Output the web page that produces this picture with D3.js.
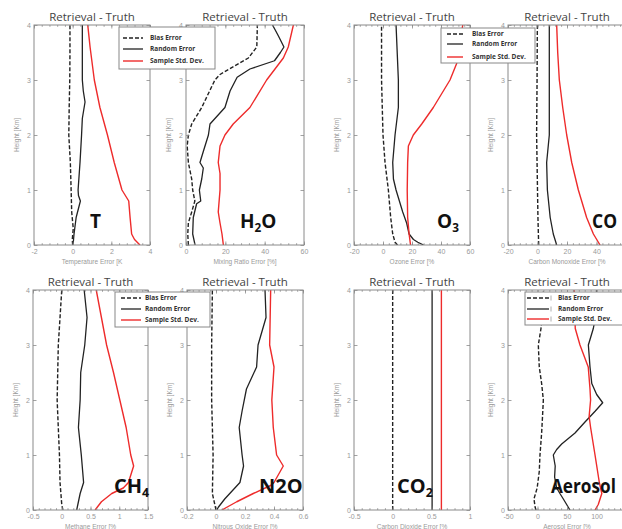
<!DOCTYPE html>
<html>
<head>
<meta charset="utf-8">
<script src="https://cdn.jsdelivr.net/npm/d3@7"></script>
<style>
  body { margin: 0; background: #fff; }
  svg { display: block; font-family: "Open Sans", Lato, sans-serif; }
</style>
</head>
<body>
<svg id="chart" width="622" height="529"></svg>
<script>
// Profiles: [height km, error value]
const seriesNames = ['Bias Error', 'Random Error', 'Sample Std. Dev.'];
const heightTicks = [0, 1, 2, 3, 4];

// Temperature
const tTicks = [-2, 0, 2, 4];
const tBias = [[0, 0], [0.1, -0.02], [0.3, 0.03], [0.6, -0.05], [1, -0.08], [1.5, -0.12], [2, -0.2], [2.5, -0.18], [3, -0.15], [3.5, -0.14], [4, -0.14]];
const tRandom = [[0, 0.02], [0.2, 0.07], [0.5, 0.18], [0.8, 0.4], [0.9, 0.3], [1, 0.28], [1.5, 0.38], [2, 0.46], [2.3, 0.5], [2.6, 0.64], [2.8, 0.55], [3, 0.5], [3.5, 0.5], [4, 0.5]];
const tStd = [[0, 3.48], [0.1, 3.2], [0.2, 3.05], [0.5, 2.97], [0.8, 2.9], [1, 2.55], [1.5, 2.15], [2, 1.8], [2.5, 1.41], [3, 1.12], [3.6, 0.9], [4, 0.78]];

// Water vapour
const h2oTicks = [0, 20, 40, 60];
const h2oBias = [[0, 1.2], [0.2, 0.9], [0.4, 1.2], [0.6, 2.9], [0.8, 4.5], [1, 3.4], [1.2, 2.9], [1.5, 1.2], [1.8, 0.6], [2, 1.2], [2.2, 2.9], [2.5, 8], [2.8, 12], [3, 14.7], [3.1, 17.3], [3.4, 31.7], [3.6, 36], [4, 36.3]];
const h2oRandom = [[0, 4.6], [0.2, 3.4], [0.5, 3.7], [0.75, 5.4], [0.8, 7.5], [1, 6.8], [1.2, 8], [1.4, 8.8], [1.5, 7.1], [1.7, 8.8], [2, 11.4], [2.2, 12.2], [2.5, 19.8], [2.8, 22.4], [3.05, 26], [3.2, 32.5], [3.35, 45], [3.5, 48], [3.6, 49.8], [3.8, 47], [4, 44]];
const h2oStd = [[0, 19], [0.2, 18.3], [0.4, 17.3], [0.6, 16.4], [1, 17.3], [1.3, 17.3], [1.5, 16.4], [1.8, 17.3], [2, 19.8], [2.2, 24], [2.5, 32.5], [3, 41], [3.4, 49.5], [3.6, 52], [4, 54.6]];

// Ozone
const o3Ticks = [-20, 0, 20, 40, 60];
const o3Bias = [[0, 10], [0.05, 8.3], [0.2, 6.7], [0.5, 5.3], [1, 3.7], [1.5, 1.4], [2, 0], [3, -1], [4, -1]];
const o3Random = [[0, 28], [0.05, 24], [0.1, 21], [0.2, 18], [0.4, 16.3], [0.6, 13.6], [0.8, 11.3], [1, 9], [1.2, 7.2], [1.5, 6.7], [2, 8.3], [2.5, 10.6], [3, 10.6], [4, 9]];
const o3Std = [[0, 19], [0.2, 18], [0.5, 17], [1, 16.7], [1.5, 17], [1.8, 17.5], [2, 20.9], [2.2, 26.7], [2.5, 34.7], [3, 46.2], [3.3, 50.8], [4, 55]];

// Carbon monoxide
const coTicks = [-20, 0, 20, 40, 60];
const coBias = [[0, 0.8], [0.5, 0.3], [1, 0], [2, -0.6], [3, -0.3], [4, -0.1]];
const coRandom = [[0, 13], [0.2, 10.7], [0.5, 8.6], [1, 6.7], [1.5, 6.2], [2, 8], [3, 8], [4, 8]];
const coStd = [[0, 42.4], [0.2, 37.9], [0.5, 33.3], [1, 27.7], [1.5, 23.2], [2, 19.8], [2.5, 17.1], [3, 14.8], [3.5, 13.7], [4, 13]];

// Methane
const ch4Ticks = [-0.5, 0, 0.5, 1, 1.5];
const ch4Bias = [[0, 0.02], [0.1, 0], [0.5, -0.03], [1, -0.04], [2, -0.08], [3, -0.06], [4, 0]];
const ch4Random = [[0, 0.26], [0.3, 0.32], [0.5, 0.38], [1, 0.34], [1.5, 0.29], [2, 0.32], [2.5, 0.33], [3, 0.4], [3.5, 0.44], [4, 0.39]];
const ch4Std = [[0, 0.58], [0.15, 0.69], [0.3, 0.87], [0.4, 1.07], [0.5, 1.16], [0.8, 1.25], [1, 1.2], [1.5, 1.12], [2, 1.01], [2.5, 0.9], [3, 0.78], [3.5, 0.69], [4, 0.6]];

// Nitrous oxide
const n2oTicks = [-0.2, 0, 0.2, 0.4, 0.6];
const n2oBias = [[0, 0], [0.3, -0.025], [1, -0.02], [2, -0.03], [3, -0.03], [4, -0.025]];
const n2oRandom = [[0, 0.005], [0.05, 0.016], [0.2, 0.06], [0.4, 0.13], [0.5, 0.165], [0.8, 0.19], [1, 0.18], [1.5, 0.16], [1.8, 0.18], [2.2, 0.21], [2.6, 0.28], [3, 0.29], [3.5, 0.345], [4, 0.338]];
const n2oStd = [[0, 0.04], [0.15, 0.143], [0.3, 0.257], [0.45, 0.38], [0.5, 0.4], [0.8, 0.464], [1, 0.418], [1.5, 0.395], [2, 0.385], [2.6, 0.4], [3, 0.37], [4, 0.377]];

// Carbon dioxide
const co2Ticks = [-0.5, 0, 0.5, 1];
const co2Bias = [[0, 0], [4, 0]];
const co2Random = [[0, 0.51], [4, 0.51]];
const co2Std = [[0, 0.63], [4, 0.63]];

// Aerosol
const aerTicks = [-50, 0, 50, 100, 150];
const aerBias = [[0, -2.5], [0.05, -4], [0.2, -6], [0.4, -0.6], [0.7, 3], [1, 4.2], [1.4, 7], [1.7, 8.5], [2, 9.9], [2.3, 7], [2.6, 3], [3, 1.4], [3.3, 5.9], [3.6, 9], [4, 10]];
const aerRandom = [[0, 55], [0.1, 49.4], [0.2, 43.8], [0.3, 38], [0.4, 32.5], [0.6, 29], [0.8, 30], [1, 26.8], [1.1, 32.5], [1.2, 41], [1.4, 63.6], [1.6, 80.5], [1.8, 98], [1.95, 110.5], [2.1, 100.3], [2.3, 92], [2.6, 89], [3, 86.2], [3.3, 94.6], [3.6, 100], [4, 100]];
const aerStd = [[0, 97.5], [0.1, 103], [0.3, 109], [0.5, 104.8], [1, 97.5], [1.5, 90], [1.7, 87.5], [2, 90], [2.2, 89], [2.6, 86], [3, 72], [3.3, 64], [4, 62]];

const svg = d3.select('#chart');
const W = 622;
const gray = '#8a8a8a';
const styles = [
  { color: '#222', dash: '4,2', width: 1.4 },
  { color: '#222', dash: null, width: 1.3 },
  { color: '#ee2b2b', dash: null, width: 1.4 }
];

const rowTop = [25, 290];
const rowH = 220;
const fmt = d => d3.format('')(d).replace('\u2212', '-');

const panels = [
  { row: 0, left: 34, right: 150, ticks: tTicks, xLabel: 'Temperature Error [K', series: [tBias, tRandom, tStd], label: 'T', lx: 90 },
  { row: 0, left: 186, right: 304, ticks: h2oTicks, xLabel: 'Mixing Ratio Error [%]', series: [h2oBias, h2oRandom, h2oStd], label: 'H_2O', lx: 240 },
  { row: 0, left: 354, right: 470, ticks: o3Ticks, xLabel: 'Ozone Error [%', series: [o3Bias, o3Random, o3Std], label: 'O_3', lx: 437 },
  { row: 0, left: 508, right: 626, ticks: coTicks, xLabel: 'Carbon Monoxide Error [%', series: [coBias, coRandom, coStd], label: 'CO', lx: 592, squeeze: 0.92 },
  { row: 1, left: 33, right: 148, ticks: ch4Ticks, xLabel: 'Methane Error [%', series: [ch4Bias, ch4Random, ch4Std], label: 'CH_4', lx: 114 },
  { row: 1, left: 187, right: 303, ticks: n2oTicks, xLabel: 'Nitrous Oxide Error [%', series: [n2oBias, n2oRandom, n2oStd], label: 'N2O', lx: 259 },
  { row: 1, left: 354, right: 470, ticks: co2Ticks, xLabel: 'Carbon Dioxide Error [%', series: [co2Bias, co2Random, co2Std], label: 'CO_2', lx: 397 },
  { row: 1, left: 508, right: 626, ticks: aerTicks, xLabel: 'Aerosol Error [%', series: [aerBias, aerRandom, aerStd], label: 'Aerosol', lx: 551, squeeze: 0.86 }
];

panels.forEach((p, i) => {
  const top = rowTop[p.row];
  const bottom = top + rowH;
  const w = p.right - p.left;
  const dom = [p.ticks[0], p.ticks[p.ticks.length - 1]];
  const x = d3.scaleLinear().domain(dom).range([0, w]);
  const y = d3.scaleLinear().domain([0, 4]).range([rowH, 0]);

  const g = svg.append('g').attr('transform', `translate(${p.left},${top})`);

  // clip for profiles
  g.append('clipPath').attr('id', 'clip' + i)
    .append('rect').attr('width', w).attr('height', rowH);

  // profiles
  const line = d3.line().x(d => x(d[1])).y(d => y(d[0]));
  const pg = g.append('g').attr('clip-path', `url(#clip${i})`);
  p.series.forEach((s, k) => {
    pg.append('path')
      .datum(s)
      .attr('d', line)
      .attr('fill', 'none')
      .attr('stroke', styles[k].color)
      .attr('stroke-width', styles[k].width)
      .attr('stroke-dasharray', styles[k].dash)
      .attr('stroke-linejoin', 'round');
  });

  // minor ticks top/bottom
  const step = p.ticks[1] - p.ticks[0];
  const minor = d3.range(0, Math.round((dom[1] - dom[0]) / step * 5) + 1).map(j => dom[0] + j * step / 5);
  g.append('g').attr('transform', `translate(0,${rowH})`)
    .call(d3.axisBottom(x).tickValues(minor).tickSize(-1.8).tickFormat(''));
  g.append('g')
    .call(d3.axisTop(x).tickValues(minor).tickSize(-1.8).tickFormat(''));

  // major ticks (labels only where they fit in the window)
  g.append('g').attr('class', 'ax').attr('transform', `translate(0,${rowH})`)
    .call(d3.axisBottom(x).tickValues(p.ticks).tickSize(-3.5).tickPadding(4)
      .tickFormat(d => p.left + x(d) + 6 > W ? '' : fmt(d)));
  g.append('g').attr('class', 'ax')
    .call(d3.axisTop(x).tickValues(p.ticks).tickSize(-3.5).tickFormat(''));
  g.append('g').attr('class', 'ax')
    .call(d3.axisLeft(y).tickValues(heightTicks).tickSize(-3.5).tickPadding(3).tickFormat(fmt));
  g.append('g').attr('class', 'ax').attr('transform', `translate(${w},0)`)
    .call(d3.axisRight(y).tickValues(heightTicks).tickSize(-3.5).tickFormat(''));

  g.selectAll('.domain').remove();
  g.selectAll('.tick line').attr('stroke', gray).attr('stroke-width', 0.8);
  g.selectAll('.tick text').attr('fill', '#999').style('font-size', '7px').style('font-family', 'Arial, "Liberation Sans", sans-serif');

  // frame
  g.append('rect').attr('width', w).attr('height', rowH)
    .attr('fill', 'none').attr('stroke', gray).attr('stroke-width', 1);

  // title
  g.append('text')
    .attr('x', w / 2).attr('y', -4)
    .attr('text-anchor', 'middle')
    .style('font-size', '11.5px').attr('fill', '#444')
    .text('Retrieval - Truth');

  // axis labels
  g.append('text')
    .attr('x', w / 2).attr('y', rowH + 19)
    .attr('text-anchor', 'middle')
    .style('font-size', '6.5px').attr('fill', '#999')
    .style('font-family', 'Arial, "Liberation Sans", sans-serif')
    .text(p.xLabel);
  g.append('text')
    .attr('transform', `translate(-15,${rowH / 2}) rotate(-90)`)
    .attr('text-anchor', 'middle')
    .style('font-size', '6.5px').attr('fill', '#999')
    .style('font-family', 'Arial, "Liberation Sans", sans-serif')
    .text('Height [Km]');

  // species label with subscripts (narrow ones squeezed horizontally)
  const lab = svg.append('text')
    .attr('transform', `translate(${p.lx},${bottom - 17}) scale(${p.squeeze || 1},1)`)
    .style('font-size', p.row === 0 ? '19px' : '20px')
    .style('font-weight', 700).attr('fill', '#111');
  const parts = p.label.split('_');
  lab.append('tspan').text(parts[0]);
  if (parts.length > 1) {
    lab.append('tspan').attr('dy', 4).style('font-size', '0.62em').text(parts[1][0]);
    if (parts[1].length > 1) lab.append('tspan').attr('dy', -4).text(parts[1].slice(1));
  }
});

// legends drawn on top
const legends = [
  { x: 119, y: 27, w: 96, h: 42, lineX: 4, lineW: 20, textX: 31, rows: [11, 22, 34], bar: false },
  { x: 441, y: 28, w: 94, h: 35, lineX: 6, lineW: 16, textX: 31, rows: [6, 16, 29], bar: false },
  { x: 115, y: 292, w: 95, h: 35, lineX: 6, lineW: 20, textX: 30, rows: [6, 17, 28], bar: false },
  { x: 525, y: 292, w: 100, h: 33, lineX: 2, lineW: 22, textX: 33, rows: [6, 17, 27], bar: true }
];

legends.forEach(L => {
  const g = svg.append('g').attr('transform', `translate(${L.x},${L.y})`);
  g.append('rect').attr('width', L.w).attr('height', L.h)
    .attr('fill', '#fff').attr('stroke', '#888').attr('stroke-width', 1);
  seriesNames.forEach((name, k) => {
    const ry = L.rows[k];
    g.append('line')
      .attr('x1', L.lineX).attr('x2', L.lineX + L.lineW)
      .attr('y1', ry).attr('y2', ry)
      .attr('stroke', styles[k].color)
      .attr('stroke-width', styles[k].width)
      .attr('stroke-dasharray', styles[k].dash);
    if (L.bar) {
      g.append('line')
        .attr('x1', L.lineX + L.lineW + 2).attr('x2', L.lineX + L.lineW + 2)
        .attr('y1', ry - 2.5).attr('y2', ry + 2.5)
        .attr('stroke', '#999').attr('stroke-width', 0.8);
    }
    g.append('text')
      .attr('x', L.textX).attr('y', ry + 2.3)
      .style('font-size', '6.5px').style('font-weight', 700)
      .attr('fill', '#333')
      .text(name);
  });
});
</script>
</body>
</html>
